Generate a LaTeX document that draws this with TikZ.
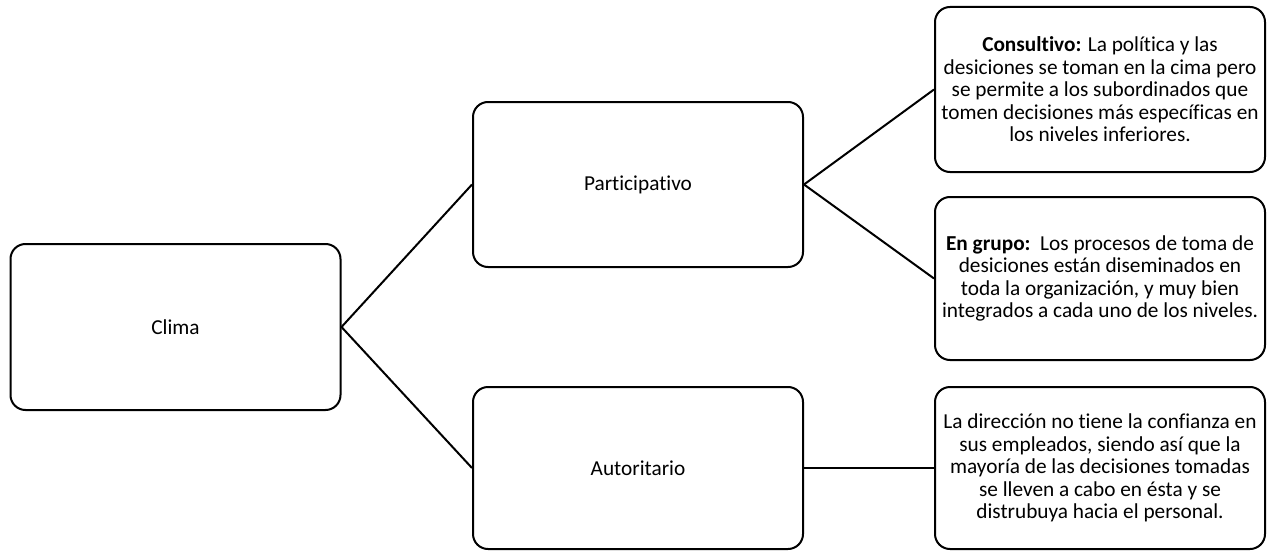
\documentclass[tikz,border=0pt]{standalone}
\usepackage{fontspec}
\setmainfont[Ligatures=NoCommon]{Carlito}
\begin{document}
\begin{tikzpicture}[x=1pt,y=-1pt,
  box/.style={draw=black, line width=2pt, rounded corners=15pt, fill=white,
    minimum width=330pt, inner sep=0pt, align=center,
    font=\fontsize{21.3}{22.5}\selectfont},
  conn/.style={draw=black, line width=2pt}]
\useasboundingbox[fill=white] (0,0) rectangle (1269,551);
\node[box, minimum height=166pt] (clima) at (175.5,327) {Clima};
\node[box, minimum height=165pt] (part) at (638,184.5) {Participativo};
\node[box, minimum height=162pt] (auto) at (638,468) {Autoritario};
\node[box, minimum height=165pt] (cons) at (1100,89.5) {\textbf{Consultivo:} La política y las\\desiciones se toman en la cima pero\\se permite a los subordinados que\\tomen decisiones más específicas en\\los niveles inferiores.};
\node[box, minimum height=163pt] (grupo) at (1100,278.5) {\textbf{En grupo:}\ \ Los procesos de toma de\\desiciones están diseminados en\\toda la organización, y muy bien\\integrados a cada uno de los niveles.};
\node[box, minimum height=162pt] (autr) at (1100,468) {La dirección no tiene la confianza en\\sus empleados, siendo así que la\\mayoría de las decisiones tomadas\\se lleven a cabo en ésta y se\\distrubuya hacia el personal.};
\draw[conn] (clima.east) -- (part.west);
\draw[conn] (clima.east) -- (auto.west);
\draw[conn] (part.east) -- (cons.west);
\draw[conn] (part.east) -- (grupo.west);
\draw[conn] (auto.east) -- (autr.west);
\end{tikzpicture}
\end{document}
